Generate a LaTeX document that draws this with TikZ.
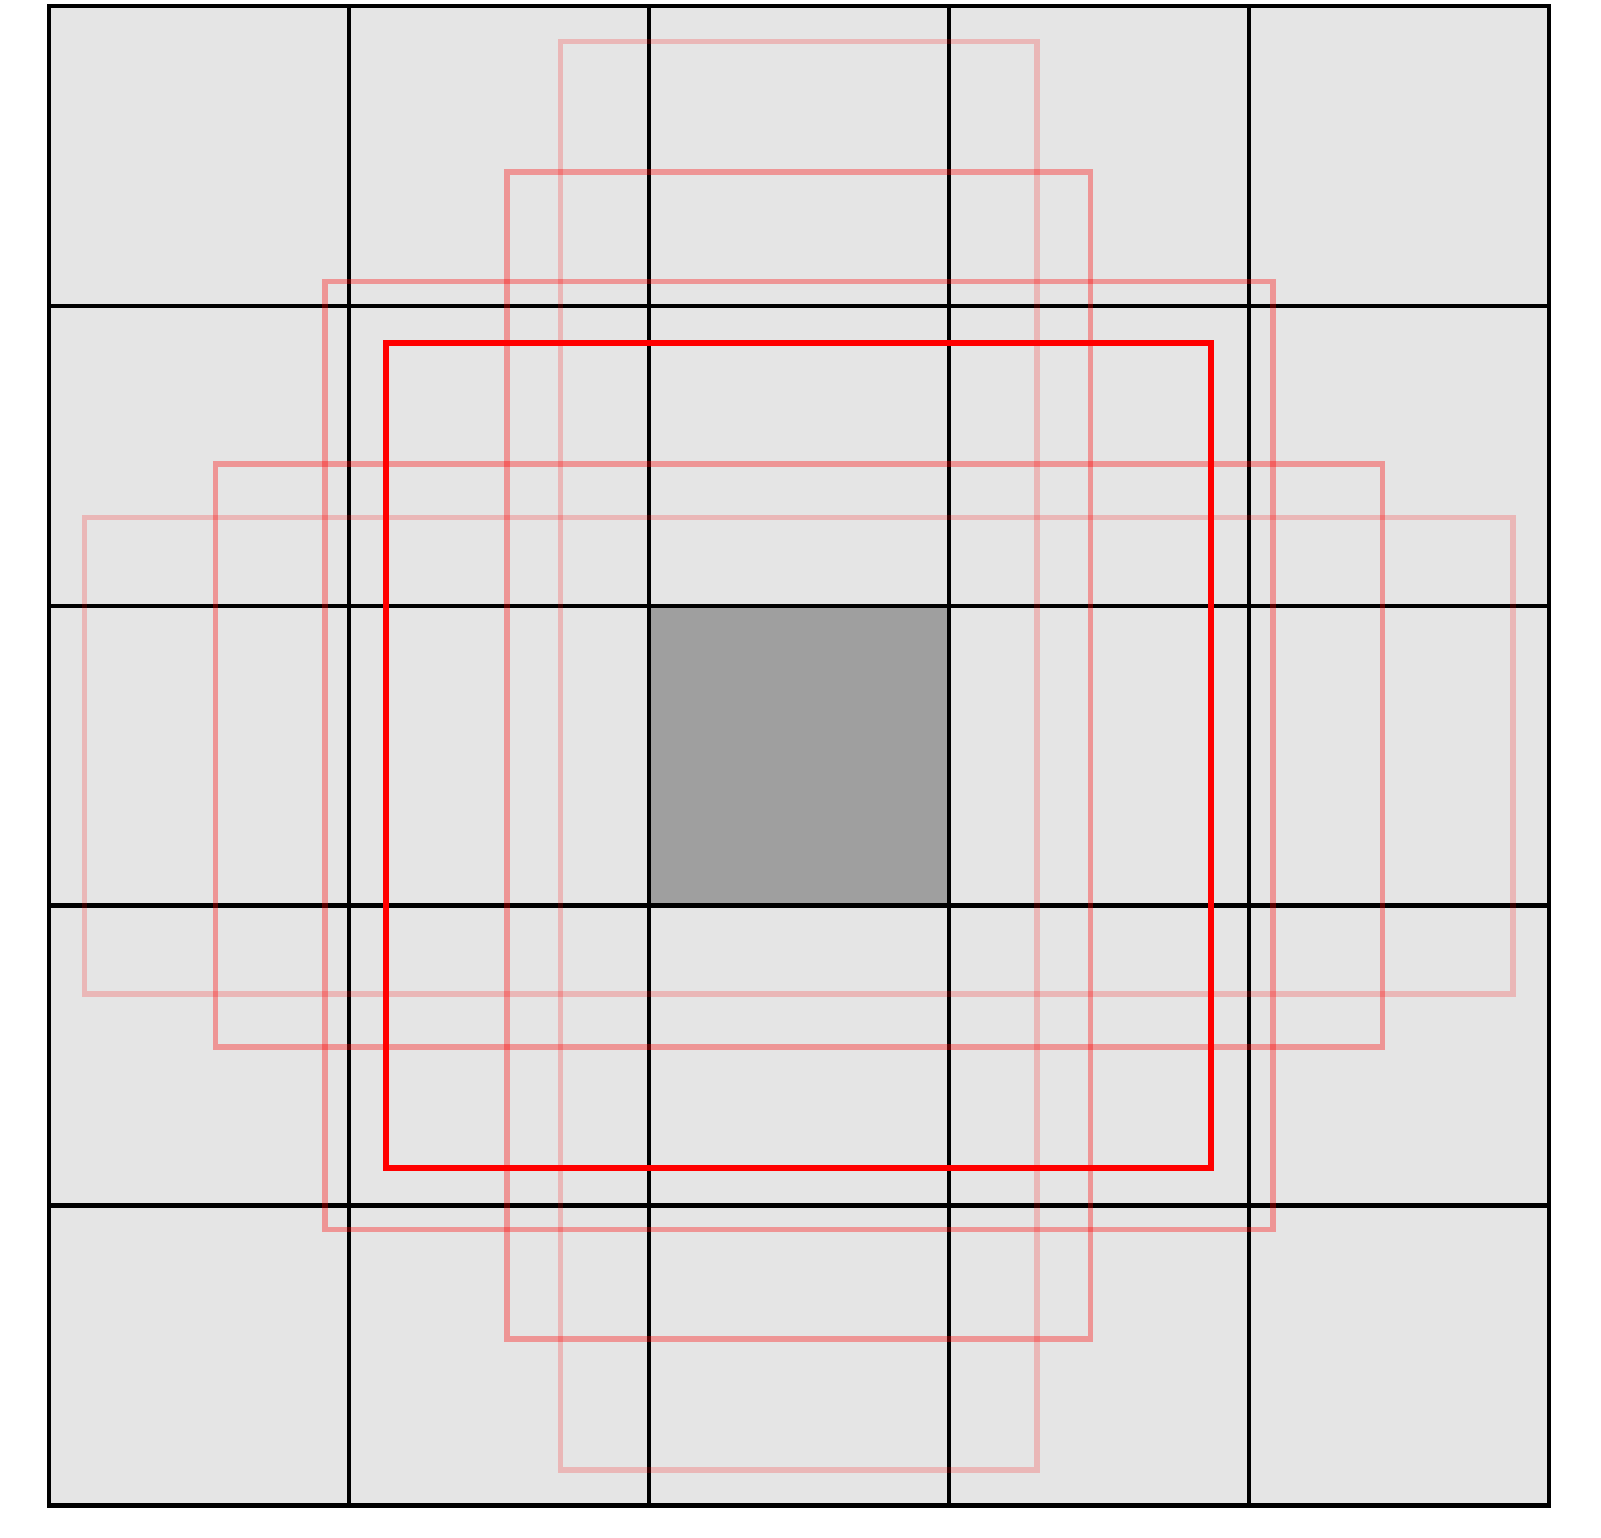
\documentclass[tikz,border=0pt]{standalone}
\usepackage{tikz}

\begin{document}
\begin{tikzpicture}[x=1.5cm, y=1.5cm,
    gridline/.style={black, line width=0.6pt},
    priorbox/.style={red, line width=0.85pt},
    widebox/.style={red, line width=0.8pt, draw opacity=0.35},
    slimbox/.style={red, line width=0.8pt, draw opacity=0.2}]
    \useasboundingbox (-0.163,-0.106) rectangle (5.174,5.019);

    \fill[gray!20] (0,0) rectangle (5,5);
    \fill[gray!75] (2,2) rectangle (3,3);
    \foreach \i in {1,...,4} {
        \draw[gridline] (\i,0) -- (\i,5);
        \draw[gridline] (0,\i) -- (5,\i);
    }
    \draw[gridline] (0,0) rectangle (5,5);

    \draw[widebox] (0.92,0.92) rectangle (4.08,4.08);
    \draw[widebox] (0.555,1.528) rectangle (4.445,3.472);
    \draw[widebox] (1.528,0.555) rectangle (3.472,4.445);
    \draw[slimbox] (0.119,1.706) rectangle (4.881,3.294);
    \draw[slimbox] (1.706,0.119) rectangle (3.294,4.881);
    \draw[priorbox] (1.125,1.125) rectangle (3.875,3.875);
\end{tikzpicture}
\end{document}
